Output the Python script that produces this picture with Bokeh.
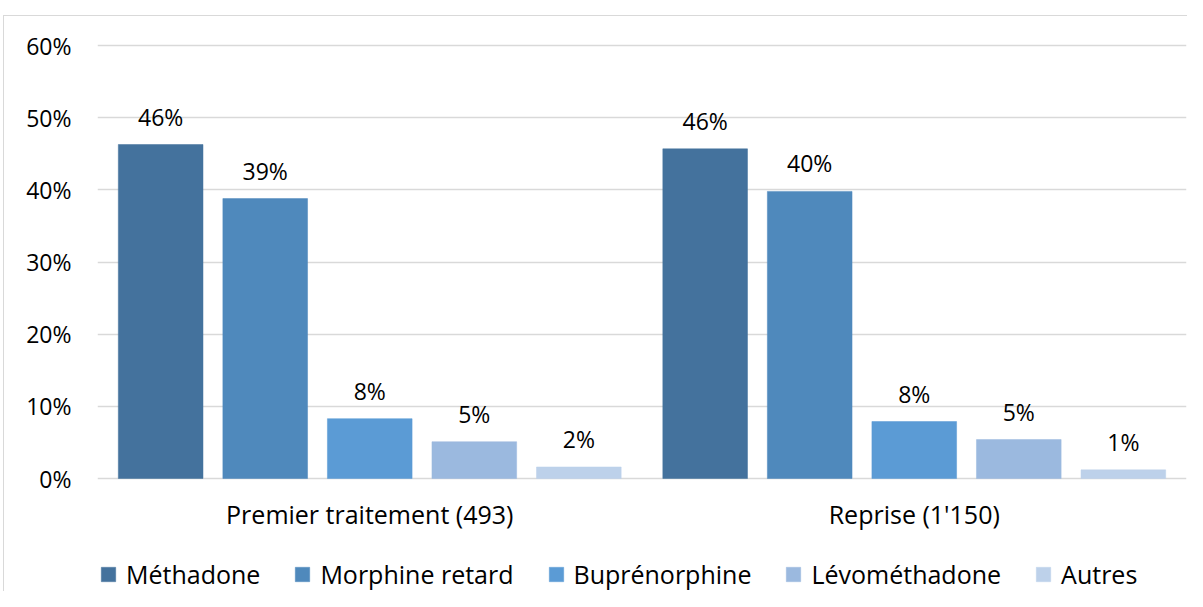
from bokeh.plotting import figure
from bokeh.models import (ColumnDataSource, FactorRange, Range1d, FixedTicker,
                          PrintfTickFormatter, Legend, LegendItem)
from bokeh.transform import dodge
from bokeh.core.properties import value
from bokeh.embed import file_html
from bokeh.resources import INLINE

groups = ["Premier traitement (493)", "Reprise (1'150)"]
treatments = ["Méthadone", "Morphine retard", "Buprénorphine", "Lévométhadone", "Autres"]
methadone = [46.3, 45.7]
morphine = [38.8, 39.8]
buprenorphine = [8.3, 7.9]
levomethadone = [5.1, 5.4]
autres = [1.6, 1.2]
y_ticks = [0, 10, 20, 30, 40, 50, 60]

series = [methadone, morphine, buprenorphine, levomethadone, autres]
colors = ["#44729D", "#4F89BC", "#5B9BD5", "#9BB9DF", "#BDD1EA"]
keys = ["methadone", "morphine", "buprenorphine", "levomethadone", "autres"]

data = {"group": groups, "base": [0] * len(groups)}
for k, s in zip(keys, series):
    data[k] = s
    data[k + "_lbl"] = ["%d%%" % round(v) for v in s]
src = ColumnDataSource(data)

FONT = "Open Sans"
FS = "23px"
FS_CAT = "25px"
FS_LEG = "25px"

# frame: top at 43px (y=60.3), 0 at 478px, bottom at 591px
p = figure(x_range=FactorRange(*groups), y_range=Range1d(-15.66, 60.3),
           width=1187, height=591, output_backend="svg", toolbar_location=None,
           min_border_left=97, min_border_right=1, min_border_top=43, min_border_bottom=0)
p.outline_line_color = None
p.background_fill_color = "white"
p.border_fill_color = None
p.xaxis.visible = False

p.xgrid.grid_line_color = None
p.ygrid.grid_line_color = "#D9D9D9"
p.ygrid.grid_line_width = 1.5
p.ygrid.ticker = FixedTicker(ticks=y_ticks)

offsets = [-0.384, -0.192, 0.0, 0.192, 0.384]
bw = 0.1555
items = []
for k, off, c, name in zip(keys, offsets, colors, treatments):
    r = p.vbar(x=dodge("group", off, range=p.x_range), top=k, bottom="base", width=bw,
               source=src, fill_color=c, line_color=c, line_width=0.5)
    items.append(LegendItem(label=name, renderers=[r]))
    p.text(x=dodge("group", off, range=p.x_range), y=k, text=k + "_lbl", source=src,
           text_align="center", text_baseline="alphabetic", y_offset=-28,
           text_font=value(FONT), text_font_size=FS, text_color="#000000")

# category labels under the baseline
p.text(x="group", y="base", text="group", source=src, text_align="center",
       text_baseline="alphabetic", y_offset=35,
       text_font=value(FONT), text_font_size=FS_CAT, text_color="#000000")

p.yaxis.ticker = FixedTicker(ticks=y_ticks)
p.yaxis.formatter = PrintfTickFormatter(format="%d%%")
p.yaxis.axis_line_color = None
p.yaxis.major_tick_line_color = None
p.yaxis.minor_tick_line_color = None
p.yaxis.major_label_standoff = 20
p.yaxis.major_label_text_font = FONT
p.yaxis.major_label_text_font_size = FS
p.yaxis.major_label_text_color = "#000000"

legend = Legend(items=items, orientation="horizontal", location=(2, 0),
                glyph_width=18, glyph_height=18, label_standoff=9, spacing=33,
                padding=0, margin=0, border_line_color=None, background_fill_alpha=0,
                label_text_font=FONT, label_text_font_size=FS_LEG, label_text_color="#000000",
                label_height=20)
p.add_layout(legend, "center")

p.styles = {
    "background-color": "white",
    "background-image": "linear-gradient(#D9D9D9, #D9D9D9), linear-gradient(#D9D9D9, #D9D9D9)",
    "background-size": "100% 1px, 1px 100%",
    "background-position": "3px 15px, 3px 15px",
    "background-repeat": "no-repeat",
}

open("out.html", "w").write(file_html(p, INLINE))
